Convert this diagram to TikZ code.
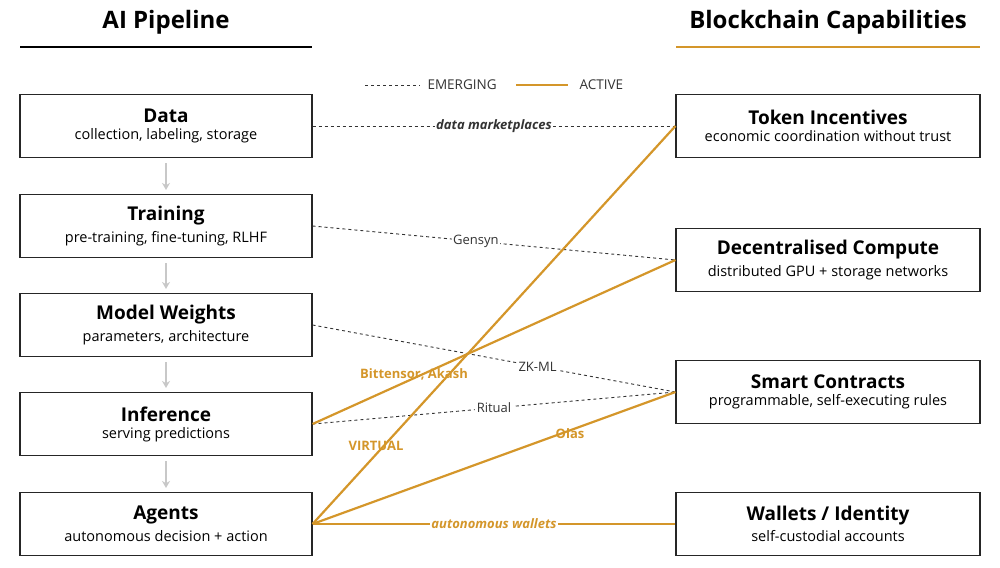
\documentclass[tikz,border=0pt]{standalone}
\usepackage{fontspec}
\setmainfont{Open Sans}
\usetikzlibrary{arrows.meta}
\definecolor{gold}{HTML}{D4962A}
\definecolor{gr}{HTML}{C8C8C8}
\begin{document}
\begin{tikzpicture}[x=1pt,y=-1pt,
 box/.style={draw=black!85,line width=1.1pt,minimum width=292pt,minimum height=63pt,align=center,inner sep=0pt},
 emer/.style={dashed,line width=0.9pt,black!80},
 act/.style={gold,line width=2.2pt},
 lab/.style={font=\fontsize{13}{15}\selectfont,fill=white,inner sep=1.5pt},
 olab/.style={font=\fontsize{13}{15}\selectfont\bfseries,text=gold,inner sep=1pt},
 down/.style={gr,line width=1.5pt,-{Stealth[length=7pt,width=8pt]}}]
\useasboundingbox (0,0) rectangle (1000,567);
\newcommand{\bx}[4]{\node[box] (#1) at #2 {{\fontsize{19}{23}\selectfont\bfseries #3}\\[5pt]{\fontsize{14.5}{18}\selectfont #4}};}
\node[font=\fontsize{24}{28}\selectfont\bfseries] (h1) at (166,22) {AI Pipeline};
\draw[line width=2.5pt] (20,47) coordinate (l1) -- (312,47) coordinate (l2);
\node[font=\fontsize{24}{28}\selectfont\bfseries] (h2) at (828,22) {Blockchain Capabilities};
\draw[gold,line width=2.5pt] (676,47) coordinate (r1) -- (980,47) coordinate (r2);
% legend
\coordinate (e1) at (365,85); \coordinate (e2) at (420,85);
\draw[emer] (e1) -- (e2);
\node[anchor=west,font=\fontsize{13.5}{15}\selectfont,text=black!80] (le) at (424,85) {EMERGING};
\coordinate (a1) at (516,85); \coordinate (a2) at (568,85);
\draw[act] (a1) -- (a2);
\node[anchor=west,font=\fontsize{13.5}{15}\selectfont,text=black!80] (la) at (576,85) {ACTIVE};
\bx{data}{(166,126)}{Data}{collection, labeling, storage}
\bx{train}{(166,226)}{Training}{pre-training, fine-tuning, RLHF}
\bx{mw}{(166,325)}{Model Weights}{parameters, architecture}
\bx{inf}{(166,424)}{Inference}{serving predictions}
\bx{ag}{(166,524)}{Agents}{autonomous decision + action}
\tikzset{box/.append style={minimum width=304pt}}
\bx{tok}{(828,126)}{Token Incentives}{economic coordination without trust}
\bx{dc}{(828,260)}{Decentralised Compute}{distributed GPU + storage networks}
\bx{sc}{(828,392)}{Smart Contracts}{programmable, self-executing rules}
\bx{wal}{(828,524)}{Wallets / Identity}{self-custodial accounts}
\draw[down] ([yshift=-5pt]data.south) -- ([yshift=4pt]train.north);
\draw[down] ([yshift=-5pt]train.south) -- ([yshift=4pt]mw.north);
\draw[down] ([yshift=-5pt]mw.south) -- ([yshift=4pt]inf.north);
\draw[down] ([yshift=-5pt]inf.south) -- ([yshift=4pt]ag.north);
% emerging
\draw[emer] (data.east) -- node[lab,font=\fontsize{13}{15}\selectfont\bfseries\itshape]{data marketplaces} (tok.west);
\draw[emer] (train.east) -- node[lab,pos=0.45]{Gensyn} (dc.west);
\draw[emer] (mw.east) -- node[lab,pos=0.62]{ZK-ML} (sc.west);
\draw[emer] (inf.east) -- node[lab,pos=0.5]{Ritual} (sc.west);
% active
\draw[act] (inf.east) -- (dc.west);
\draw[act] (ag.east) -- (tok.west);
\draw[act] (ag.east) -- (sc.west);
\draw[act] (ag.east) -- node[lab,text=gold,font=\fontsize{13}{15}\selectfont\bfseries\itshape]{autonomous wallets} (wal.west);
\node[olab] (bl) at (414,374) {Bittensor, Akash};
\node[olab] (vl) at (376,446) {VIRTUAL};
\node[olab] (ol) at (570,434) {Olas};
\end{tikzpicture}
\end{document}
